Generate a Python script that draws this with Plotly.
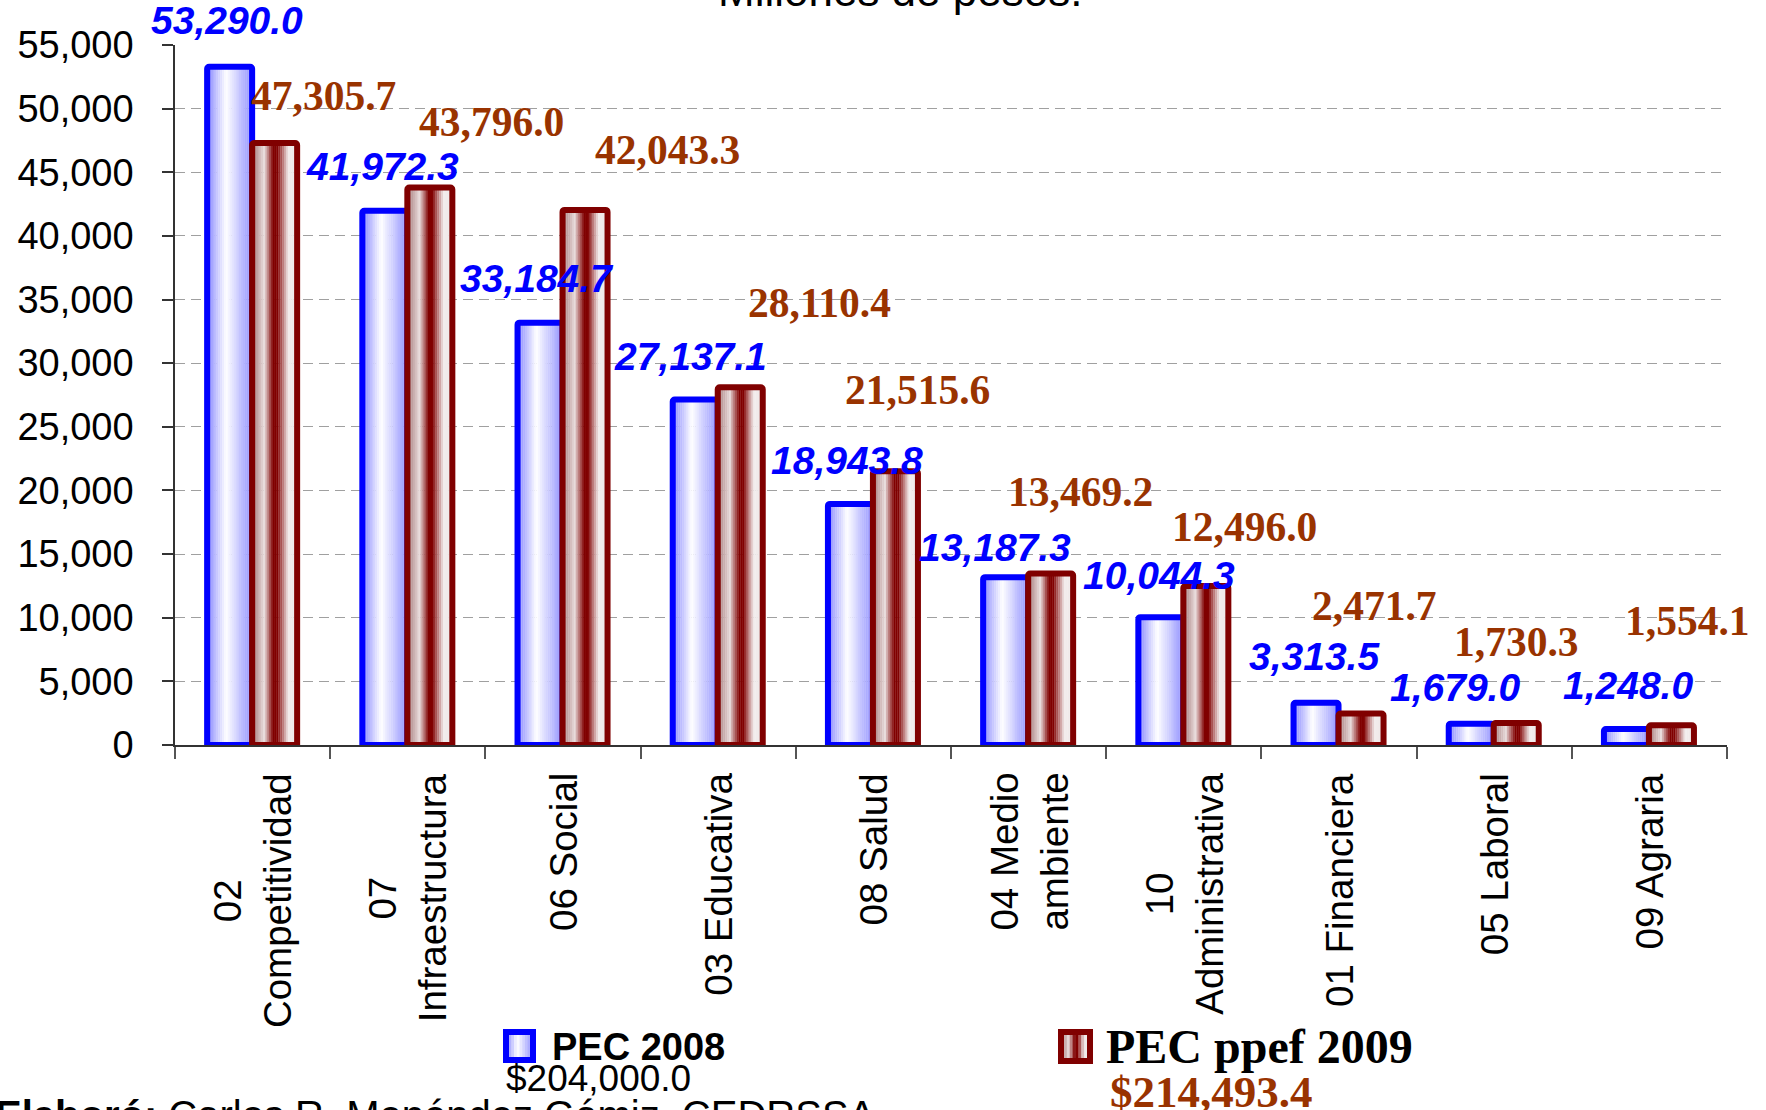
import plotly.graph_objects as go

# ---------------- data ----------------
categories = ["02<br>Competitividad", "07<br>Infraestructura", "06 Social", "03 Educativa",
              "08 Salud", "04 Medio<br>ambiente", "10<br>Administrativa", "01 Financiera",
              "05 Laboral", "09 Agraria"]
pec_2008 = [53290.0, 41972.3, 33184.7, 27137.1, 18943.8, 13187.3, 10044.3, 3313.5, 1679.0, 1248.0]
pec_2009 = [47305.7, 43796.0, 42043.3, 28110.4, 21515.6, 13469.2, 12496.0, 2471.7, 1730.3, 1554.1]
series_names = ["PEC 2008", "PEC ppef 2009"]
series_totals = ["$204,000.0", "$214,493.4"]
y_tick_values = [0, 5000, 10000, 15000, 20000, 25000, 30000, 35000, 40000, 45000, 50000, 55000]
title_text = "Millones de pesos."
credit_text = "<b>Elaboró:</b> Carlos R. Menéndez Gámiz, CEDRSSA"

# label offsets (pixels) relative to category centre / value position
lab08_dx = [-26, -25, -26, -28, -26, -34, -25, -25, -39, -21]
lab08_dy = [46, 44, 44, 43, 43, 30, 42, 46, 36, 44]
lab09_dx = [71, 84, 104, 101, 44, 52, 61, 35, 22, 38]
lab09_dy = [47, 66, 60, 84, 81, 82, 59, 108, 81, 104]

# ---------------- styles ----------------
W, H = 1766, 1110
X0, X1, YB, YT = 175, 1727, 745, 45
SANS = "Liberation Sans, Arial, sans-serif"
SERIF = "Liberation Serif, Times New Roman, serif"
BLUE = "#0000FF"
MAROON = "#800000"
BROWN_TXT = "#993300"

blue_stops = [(0.0, (135, 135, 255)), (0.42, (255, 255, 255)), (1.0, (145, 145, 255))]
brown_stops = [(0.0, (165, 120, 120)), (0.27, (232, 220, 220)), (0.47, (128, 0, 0)),
               (0.56, (128, 0, 0)), (0.8, (242, 236, 236)), (1.0, (238, 232, 232))]


def grad(stops, t):
    for (t0, c0), (t1, c1) in zip(stops, stops[1:]):
        if t0 <= t <= t1:
            f = (t - t0) / (t1 - t0) if t1 > t0 else 0
            return "rgb(%d,%d,%d)" % tuple(round(a + (b - a) * f) for a, b in zip(c0, c1))
    return "rgb(%d,%d,%d)" % stops[-1][1]


def px(xp):
    return (xp - X0) / (X1 - X0)


def py(yp):
    return (YB - yp) / (YB - YT)


BAR_W = 0.29
OFF_08 = -0.293
OFF_09 = -0.003
NSTRIP = 24

fig = go.Figure()


def add_series(values, offset, stops, line_color):
    step = BAR_W / NSTRIP
    for k in range(NSTRIP):
        t = (k + 0.5) / NSTRIP
        fig.add_trace(go.Bar(
            x=categories, y=values, offset=offset + k * step, width=step * 1.15,
            marker=dict(color=grad(stops, t), line=dict(width=0)),
            hoverinfo="skip", showlegend=False))
    fig.add_trace(go.Bar(
        x=categories, y=values, offset=offset, width=BAR_W,
        marker=dict(color="rgba(0,0,0,0)", line=dict(color=line_color, width=6), cornerradius=2),
        hoverinfo="skip", showlegend=False))


add_series(pec_2008, OFF_08, blue_stops, BLUE)
add_series(pec_2009, OFF_09, brown_stops, MAROON)

annotations = []
# data labels
for i, v in enumerate(pec_2008):
    annotations.append(dict(
        x=i, y=v, xref="x", yref="y", text=f"{v:,.1f}", showarrow=False,
        xanchor="center", yanchor="middle", xshift=lab08_dx[i], yshift=lab08_dy[i],
        font=dict(family=SANS, size=39, color=BLUE, weight="bold", style="italic")))
for i, v in enumerate(pec_2009):
    annotations.append(dict(
        x=i, y=v, xref="x", yref="y", text=f"{v:,.1f}", showarrow=False,
        xanchor="center", yanchor="middle", xshift=lab09_dx[i], yshift=lab09_dy[i],
        font=dict(family=SERIF, size=41.5, color=BROWN_TXT, weight="bold")))
# category labels (rotated)
for i, c in enumerate(categories):
    annotations.append(dict(
        x=i, y=0, xref="x", yref="paper", text=c, showarrow=False, textangle=-90,
        xanchor="center", yanchor="top", yshift=-26, align="center",
        font=dict(family=SANS, size=38.5, color="black")))
# title and credit (cropped at the edges)
annotations.append(dict(
    x=px(900), y=py(-10), xref="paper", yref="paper", text=title_text, showarrow=False,
    xanchor="center", yanchor="middle", font=dict(family=SANS, size=44, color="black")))
annotations.append(dict(
    x=px(-7), y=py(1115), xref="paper", yref="paper", text=credit_text, showarrow=False,
    xanchor="left", yanchor="middle", font=dict(family=SANS, size=40, color="black")))
# legend texts
annotations.append(dict(
    x=px(550), y=py(1047), xref="paper", yref="paper", text=series_names[0], showarrow=False,
    xanchor="left", yanchor="middle", font=dict(family=SANS, size=38, color="black", weight="bold")))
annotations.append(dict(
    x=px(504), y=py(1078), xref="paper", yref="paper", text=series_totals[0], showarrow=False,
    xanchor="left", yanchor="middle", font=dict(family=SANS, size=37, color="black")))
annotations.append(dict(
    x=px(1104), y=py(1046), xref="paper", yref="paper", text=series_names[1], showarrow=False,
    xanchor="left", yanchor="middle", font=dict(family=SERIF, size=48, color="black", weight="bold")))
annotations.append(dict(
    x=px(1108), y=py(1092), xref="paper", yref="paper", text=series_totals[1], showarrow=False,
    xanchor="left", yanchor="middle", font=dict(family=SERIF, size=45, color=BROWN_TXT, weight="bold")))

# legend symbols
shapes = []


def legend_box(x0, y0, x1, y1, stops, color):
    n = 10
    for k in range(n):
        t = (k + 0.5) / n
        xa = x0 + (x1 - x0) * k / n
        xb = x0 + (x1 - x0) * (k + 1) / n + 0.4
        shapes.append(dict(type="rect", xref="paper", yref="paper",
                           x0=px(xa), x1=px(xb), y0=py(y1), y1=py(y0),
                           fillcolor=grad(stops, t), line=dict(width=0), layer="above"))
    shapes.append(dict(type="rect", xref="paper", yref="paper",
                       x0=px(x0), x1=px(x1), y0=py(y1), y1=py(y0),
                       fillcolor="rgba(0,0,0,0)", line=dict(color=color, width=6), layer="above"))


legend_box(506, 1032, 533, 1060, blue_stops, BLUE)
legend_box(1061, 1032, 1090, 1061, brown_stops, MAROON)

fig.update_layout(
    width=W, height=H, autosize=False,
    margin=dict(l=X0, r=W - X1, t=YT, b=H - YB, pad=0),
    paper_bgcolor="white", plot_bgcolor="white",
    barmode="overlay", showlegend=False,
    annotations=annotations, shapes=shapes,
    xaxis=dict(type="category", range=[-0.5, len(categories) - 0.5], showticklabels=False,
               showgrid=False, zeroline=False, showline=True, linecolor="#333333", linewidth=1.5,
               ticks="outside", tickson="boundaries", ticklen=12, tickcolor="#555555", tickwidth=1.5),
    yaxis=dict(range=[0, 55000], tickvals=y_tick_values, tickformat=",d",
               showgrid=True, gridcolor="#a0a0a0", gridwidth=1.3, griddash="10px,6px",
               zeroline=False, showline=True, linecolor="#333333", linewidth=1.5,
               ticks="outside", ticklen=11, tickcolor="#333333", tickwidth=1.5,
               ticklabelstandoff=21,
               tickfont=dict(family=SANS, size=38, color="black")),
)

fig.write_html("out.html", config={"displayModeBar": False},
               post_script="document.body.style.margin='0px';document.body.style.overflow='hidden';")
